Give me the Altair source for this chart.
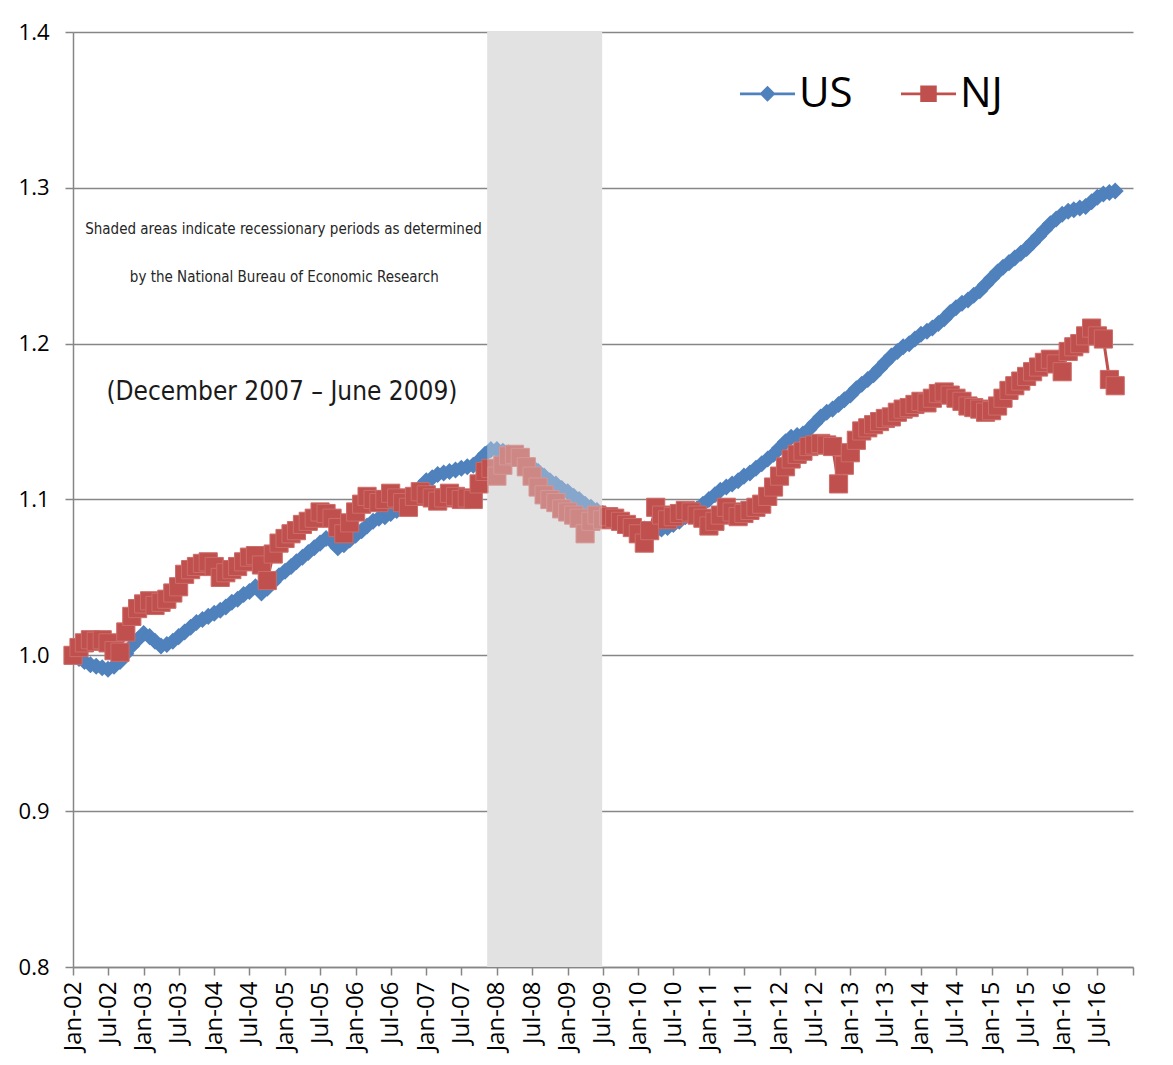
import altair as alt
import pandas as pd

# ---------------- data ----------------
months = pd.date_range("2002-01-01", periods=178, freq="MS").strftime("%Y-%m-%d").tolist()

us_values = [
    1.000, 0.998, 0.996, 0.994, 0.993, 0.992, 0.991, 0.993, 0.996, 1.001, 1.006, 1.010,
    1.014, 1.012, 1.009, 1.006, 1.007, 1.009, 1.012, 1.015, 1.018, 1.021, 1.023, 1.025,
    1.027, 1.029, 1.031, 1.034, 1.036, 1.039, 1.041, 1.044, 1.040, 1.043, 1.047, 1.051,
    1.054, 1.057, 1.060, 1.063, 1.066, 1.069, 1.072, 1.075, 1.073, 1.069, 1.071, 1.074,
    1.077, 1.080, 1.083, 1.086, 1.088, 1.089, 1.091, 1.093, 1.096, 1.100, 1.104, 1.108,
    1.112, 1.114, 1.116, 1.117, 1.118, 1.119, 1.120, 1.121, 1.122, 1.125, 1.129, 1.132,
    1.132, 1.131, 1.130, 1.128, 1.126, 1.124, 1.121, 1.118, 1.115, 1.112, 1.110, 1.107,
    1.105, 1.102, 1.100, 1.097, 1.095, 1.093, 1.091, 1.089, 1.087, 1.085, 1.084, 1.083,
    1.082, 1.081, 1.080, 1.080, 1.081, 1.082, 1.084, 1.086, 1.089, 1.092, 1.094, 1.097,
    1.100, 1.103, 1.106, 1.108, 1.110, 1.112, 1.115, 1.117, 1.120, 1.123, 1.126, 1.129,
    1.133, 1.137, 1.140, 1.141, 1.142, 1.145, 1.149, 1.153, 1.156, 1.158, 1.161, 1.164,
    1.167, 1.171, 1.174, 1.177, 1.180, 1.184, 1.188, 1.192, 1.195, 1.198, 1.200, 1.203,
    1.206, 1.208, 1.210, 1.213, 1.216, 1.220, 1.223, 1.226, 1.228, 1.231, 1.234, 1.238,
    1.242, 1.246, 1.249, 1.252, 1.255, 1.258, 1.261, 1.265, 1.269, 1.273, 1.277, 1.280,
    1.283, 1.285, 1.286, 1.287, 1.288, 1.291, 1.294, 1.296, 1.297, 1.298,
]

nj_values = [
    1.000, 1.005, 1.008, 1.010, 1.009, 1.010, 1.008, 1.003, 1.002, 1.015, 1.025, 1.030,
    1.033, 1.035, 1.032, 1.034, 1.036, 1.040, 1.044, 1.052, 1.055, 1.057, 1.059, 1.060,
    1.057, 1.050, 1.053, 1.055, 1.057, 1.060, 1.063, 1.064, 1.058, 1.048, 1.065, 1.072,
    1.075, 1.078, 1.080, 1.084, 1.086, 1.088, 1.092, 1.091, 1.088, 1.082, 1.078, 1.085,
    1.092, 1.097, 1.102, 1.100, 1.098, 1.100, 1.104, 1.101, 1.098, 1.095, 1.102, 1.105,
    1.103, 1.101, 1.099, 1.101, 1.104, 1.102, 1.100, 1.101, 1.100, 1.110, 1.118, 1.120,
    1.115, 1.122, 1.128, 1.129, 1.127, 1.121, 1.115, 1.108, 1.103, 1.100, 1.098, 1.094,
    1.092, 1.090, 1.088, 1.078, 1.086, 1.090, 1.087, 1.089, 1.088, 1.086, 1.084, 1.082,
    1.078, 1.072, 1.080, 1.095, 1.090, 1.087, 1.089, 1.091, 1.093, 1.092, 1.090, 1.088,
    1.083, 1.086, 1.090, 1.095, 1.092, 1.089, 1.091, 1.093, 1.095, 1.097, 1.102, 1.108,
    1.115, 1.121, 1.126, 1.129, 1.131, 1.134, 1.135, 1.136, 1.135, 1.134, 1.110, 1.122,
    1.130, 1.138, 1.144, 1.146, 1.148, 1.150, 1.152, 1.153, 1.156, 1.158, 1.159, 1.161,
    1.163, 1.162, 1.165, 1.168, 1.169, 1.167, 1.165, 1.163, 1.160, 1.159, 1.158, 1.156,
    1.157, 1.160, 1.165, 1.170, 1.173, 1.176, 1.179, 1.182, 1.185, 1.188, 1.190, 1.187,
    1.182, 1.195, 1.198, 1.200, 1.205, 1.210, 1.205, 1.203, 1.177, 1.173,
]

series_names = ["US", "NJ"]
series_colors = ["#4F81BD", "#C0504D"]

recession_start = ["2007-11-12"]
recession_end = ["2009-06-28"]

x_start = "2002-01-01"
x_end = "2017-01-01"
tick_dates = pd.date_range(x_start, x_end, freq="6MS")
y_ticks = [0.8, 0.9, 1.0, 1.1, 1.2, 1.3, 1.4]

note_texts = [
    "Shaded  areas indicate recessionary periods as determined",
    "by the National  Bureau of Economic Research",
]
note_dates = ["2004-12-24", "2004-12-28"]
note_values = [1.2734, 1.2426]

period_texts = ["(December 2007 \u2013 June 2009)"]
period_dates = ["2004-12-16"]
period_values = [1.1688]

# ---------------- tables ----------------
us_df = pd.DataFrame({"date": months, "value": us_values, "series": "US"})
nj_df = pd.DataFrame({"date": months, "value": nj_values, "series": "NJ"})
rec_df = pd.DataFrame({"start": recession_start, "end": recession_end})
note_df = pd.DataFrame({"date": note_dates, "value": note_values, "text": note_texts})
period_df = pd.DataFrame({"date": period_dates, "value": period_values, "text": period_texts})


def to_ms(s):
    return int(pd.Timestamp(s).value // 10**6)


tick_ms = [int(t.value // 10**6) for t in tick_dates]

GRAY = "#868686"
FONT = "Open Sans"
NARROW = "DejaVu Sans Condensed, DejaVu Sans, sans-serif"

x_scale = alt.Scale(type="utc", domain=[to_ms(x_start), to_ms(x_end)])
x_axis = alt.Axis(
    values=tick_ms,
    labelExpr="utcyear(datum.value) >= 2017 ? '' : utcFormat(datum.value, '%b-%y')",
    labelAngle=270,
    labelFont=FONT,
    labelFontSize=24,
    labelColor="#000000",
    labelPadding=6,
    labelOverlap=False,
    tickSize=8,
    tickColor=GRAY,
    tickWidth=1.5,
    domainColor=GRAY,
    domainWidth=1.5,
    grid=False,
    title=None,
)
y_scale = alt.Scale(domain=[0.8, 1.4], nice=False, zero=False)
y_axis = alt.Axis(
    values=y_ticks,
    format=".1f",
    labelFont=FONT,
    labelFontSize=22,
    labelColor="#000000",
    labelPadding=16,
    tickSize=8,
    tickColor=GRAY,
    tickWidth=1.5,
    domainColor=GRAY,
    domainWidth=1.5,
    grid=True,
    gridColor=GRAY,
    gridWidth=1.5,
    title=None,
)


def X(field):
    return alt.X(field, type="temporal", scale=x_scale, axis=x_axis)


def Y(field):
    return alt.Y(field, type="quantitative", scale=y_scale, axis=y_axis)


# recession shading underneath (hides grid lines)
shade_base = alt.Chart(rec_df).mark_rect(color="#E3E3E3", opacity=1).encode(
    x=X("start"), x2="end"
)
# translucent shading on top (fades the series)
shade_top = alt.Chart(rec_df).mark_rect(color="#E3E3E3", opacity=0.38).encode(
    x=X("start"), x2="end"
)

us_line = alt.Chart(us_df).mark_line(color=series_colors[0], strokeWidth=3).encode(
    x=X("date"), y=Y("value")
)
us_pts = alt.Chart(us_df).mark_point(
    shape="diamond", filled=True, size=290, color=series_colors[0], opacity=1
).encode(x=X("date"), y=Y("value"))

nj_line = alt.Chart(nj_df).mark_line(color=series_colors[1], strokeWidth=3).encode(
    x=X("date"), y=Y("value")
)
nj_pts = alt.Chart(nj_df).mark_point(
    shape="square", filled=True, size=330, color=series_colors[1], opacity=1,
    stroke="#CC6C69", strokeWidth=1
).encode(x=X("date"), y=Y("value"))

notes = alt.Chart(note_df).mark_text(
    font=NARROW, fontSize=15, color="#262626", align="center", baseline="middle"
).encode(x=X("date"), y=Y("value"), text="text:N")

period = alt.Chart(period_df).mark_text(
    font=NARROW, fontSize=26, color="#1A1A1A", align="center", baseline="middle"
).encode(x=X("date"), y=Y("value"), text="text:N")

# legend (symbols: line with diamond / line with square)
legend_paths = [
    "M-1,-0.05L1,-0.05L1,0.05L-1,0.05Z M0,-0.29L0.29,0L0,0.29L-0.29,0Z",
    "M-1,-0.05L1,-0.05L1,0.05L-1,0.05Z M-0.3,-0.3L0.3,-0.3L0.3,0.3L-0.3,0.3Z",
]
legend_def = alt.Legend(
    title=None,
    orient="none",
    legendX=667,
    legendY=34,
    direction="horizontal",
    symbolSize=3025,
    symbolStrokeWidth=0,
    symbolOpacity=1,
    labelFont=FONT,
    labelFontSize=42,
    labelColor="#000000",
    labelOffset=4,
    columnPadding=48,
    padding=0,
    labelLimit=0,
)
legend_df = pd.DataFrame({"series": series_names})
legend_layer = alt.Chart(legend_df).transform_filter("false").mark_point(
    filled=True, opacity=1
).encode(
    color=alt.Color("series:N", scale=alt.Scale(domain=series_names, range=series_colors), legend=legend_def),
    shape=alt.Shape("series:N", scale=alt.Scale(domain=series_names, range=legend_paths), legend=legend_def),
)

chart = alt.layer(
    shade_base, us_line, us_pts, nj_line, nj_pts, shade_top, notes, period, legend_layer
).properties(
    width=1060,
    height=935,
    autosize=alt.AutoSizeParams(type="none"),
    padding={"left": 65, "top": 24, "right": 32, "bottom": 90},
    background="#FFFFFF",
).configure_view(stroke=None)

chart.save("out.html", embed_options={"renderer": "svg", "actions": False})
